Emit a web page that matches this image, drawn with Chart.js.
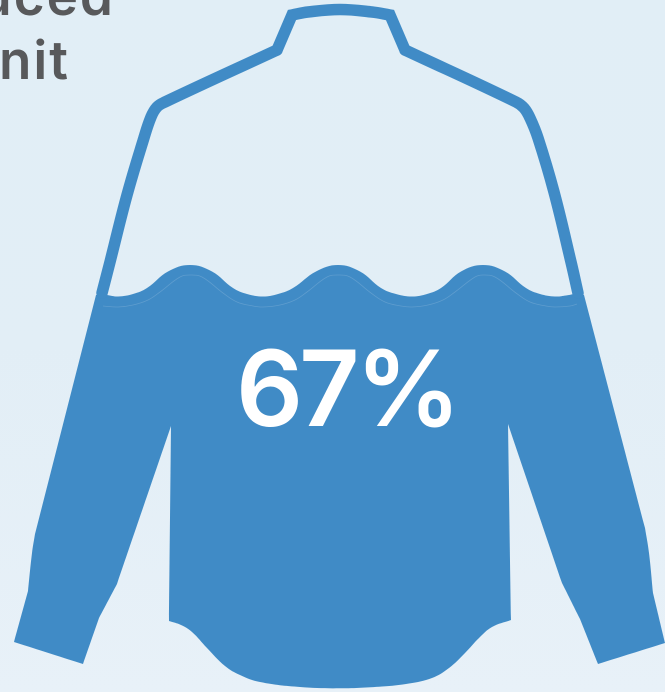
<!DOCTYPE html>
<html>
<head>
<meta charset="utf-8">
<style>
html,body{margin:0;padding:0;width:665px;height:692px;overflow:hidden;background:linear-gradient(180deg,#e1eef6 0%,#e2eef6 50%,#e8f1f8 100%);}
canvas{display:block;}
</style>
<script src="https://cdn.jsdelivr.net/npm/chart.js@4"></script>
</head>
<body>
<canvas id="c" width="665" height="692"></canvas>
<script>
const percentFilled = 67;
const clippedCaption = ["uced", "nit"];

// filled part of the shirt; a repeated point keeps a corner sharp under the curve tension
const fillX = [96,96,107,107,118,133,147,168,190,212,233,247,263,278,293,316,338,360,381,396,412,427,441,461,483,505,526,540,555,566,574,574,584,584,645,645,649,653,653,665,665,598,598,580,580,562,562,508,508,511,511,492,479,465,449,432,409,382,340,300,260,240,225,207,192,181,169,169,171,171,117,117,99,99,83,83,14,14,28,28,32,35,35];
const fillY = [295,295,295,295,296.5,294,288,271.5,265,271.5,288,294,296.5,294,288,271.5,265,271.5,288,294,296.5,294,288,271.5,265,271.5,288,294,296.5,295.5,294,294,295,295,528,528,553,593,593,643,643,664,664,619,619,583,583,424,424,620,620,627,638,653,668,678,683.5,686.5,688.3,687,682,675,666,648,632,625,621,621,426,426,584,584,618,618,664,664,642,642,591,591,553,534,534];

// shirt outline above the water line: left side, collar, right side
const leftSideX = [102,110,127,143,151,157,165,277];
const leftSideY = [293,262,195,141,117,107,102,50];
const collarX = [277,292,292,308,340,372,390,390,405];
const collarY = [50,15,15,12,9.5,12,15,15,50];
const rightSideX = [405,516,524,530,538,554,571,578];
const rightSideY = [50,102,108,118,138,192,262,293];

// thin pale line that follows the wave inside the fill
const innerX = [103,118,133,148,160,180,190,202,223,237,253,263,280,295,307,327,338,350,371,385,401,412,428,443,455,475,483,495,516,530,546,555,570,577];
const innerY = [306,307,305,300,292,277,275,277,293,302,306,307,305,300,292,277,275,277,293,302,306,307,305,300,292,277,275,277,293,302,306,307,306,304];

const toPoints = (xs, ys) => xs.map((x, i) => ({x, y: ys[i]}));
const BLUE = '#408bc6';
const strokeLine = (label, xs, ys, join) => ({label, data: toPoints(xs, ys), showLine: true, fill: false,
  borderColor: BLUE, borderWidth: 11.5, pointRadius: 0, tension: 0.4, borderJoinStyle: join, borderCapStyle: 'round'});

const labels = {
  id: 'labels',
  afterDatasetsDraw(chart) {
    const {ctx, scales: {x, y}} = chart;
    ctx.save();
    ctx.textBaseline = 'alphabetic';
    ctx.textAlign = 'right';
    ctx.fillStyle = '#58595b';
    ctx.font = '600 53px Inter';
    ctx.letterSpacing = '2px';
    ctx.fillText(clippedCaption[0], x.getPixelForValue(115), y.getPixelForValue(15));
    ctx.fillText(clippedCaption[1], x.getPixelForValue(70), y.getPixelForValue(79));
    ctx.textAlign = 'center';
    ctx.fillStyle = '#ffffff';
    ctx.font = '600 105px Inter';
    ctx.letterSpacing = '-4px';
    ctx.fillText(percentFilled + '%', x.getPixelForValue(346.5), y.getPixelForValue(426));
    ctx.restore();
  }
};

new Chart(document.getElementById('c'), {
  type: 'scatter',
  data: {
    datasets: [
      {label: 'inner', data: toPoints(innerX, innerY), showLine: true, fill: false,
       borderColor: 'rgba(255,255,255,0.16)', borderWidth: 0.8, pointRadius: 0, tension: 0.4},
      strokeLine('left side', leftSideX, leftSideY, 'round'),
      strokeLine('collar', collarX, collarY, 'miter'),
      strokeLine('right side', rightSideX, rightSideY, 'round'),
      {label: 'filled', data: toPoints(fillX, fillY), showLine: true, fill: 'shape', tension: 0.4,
       backgroundColor: BLUE, borderColor: 'rgba(0,0,0,0)', borderWidth: 0, pointRadius: 0}
    ]
  },
  options: {
    responsive: false,
    animation: false,
    devicePixelRatio: 2,
    layout: {padding: 0},
    plugins: {legend: {display: false}, tooltip: {enabled: false}, title: {display: false}},
    scales: {
      x: {type: 'linear', display: false, min: 0, max: 665},
      y: {type: 'linear', display: false, min: 0, max: 692, reverse: true}
    }
  },
  plugins: [labels]
});
</script>
</body>
</html>
